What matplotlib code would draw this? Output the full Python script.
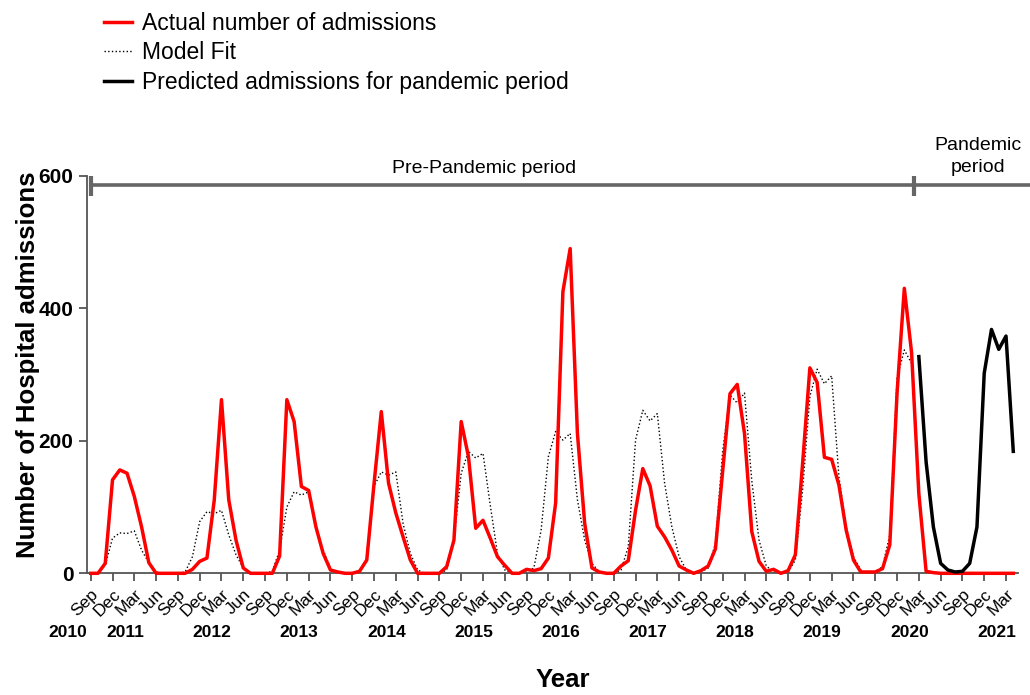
### Import libraries
import numpy as np
import matplotlib.pyplot as plt
import matplotlib.transforms as mtransforms

plt.rcParams['font.family'] = ['Liberation Sans', 'DejaVu Sans']


### Data: monthly hospital admissions, Sep 2010 - Apr 2021
actual = [0, 0, 15, 141, 156, 151, 116, 70, 16, 0, 0, 0,          # Sep10 - Aug11
          0, 0, 6, 18, 23, 110, 262, 111, 50, 8, 0, 0,            # Sep11 - Aug12
          0, 0, 26, 262, 229, 131, 125, 70, 30, 5, 2, 0,          # Sep12 - Aug13
          0, 3, 20, 135, 244, 136, 91, 55, 20, 0, 0, 0,           # Sep13 - Aug14
          0, 10, 50, 229, 176, 68, 80, 53, 25, 12, 0, 0,          # Sep14 - Aug15
          6, 4, 7, 23, 106, 425, 490, 211, 75, 8, 2, 0,           # Sep15 - Aug16
          0, 11, 19, 95, 158, 132, 71, 55, 35, 11, 5, 0,          # Sep16 - Aug17
          4, 11, 37, 155, 271, 285, 211, 63, 18, 3, 6, 0,         # Sep17 - Aug18
          4, 28, 166, 310, 288, 175, 172, 133, 65, 20, 2, 2,      # Sep18 - Aug19
          2, 7, 43, 272, 430, 333, 120, 3, 1, 0, 0, 0,            # Sep19 - Aug20
          0, 0, 0, 0, 0, 0, 0, 0]                                 # Sep20 - Apr21

model_fit = [0, 0, 12, 53, 61, 60, 64, 35, 16, 2, 0, 0,
             0, 2, 25, 78, 93, 90, 95, 58, 28, 8, 0, 0,
             0, 3, 35, 100, 123, 118, 123, 73, 35, 8, 0, 0,
             0, 4, 22, 131, 153, 148, 153, 75, 30, 5, 0, 0,
             0, 5, 50, 151, 184, 174, 181, 103, 29, 5, 0, 0,
             2, 8, 65, 176, 214, 201, 211, 111, 50, 15, 2, 0,
             0, 5, 40, 201, 246, 230, 241, 136, 70, 25, 5, 0,
             2, 8, 45, 185, 269, 257, 272, 140, 50, 11, 2, 0,
             2, 20, 126, 267, 308, 286, 298, 145, 70, 25, 5, 0,
             2, 10, 58, 295, 337, 317]                             # ends Feb20

# predicted admissions for pandemic period, Mar 2020 - Apr 2021
predicted = [327, 168, 70, 15, 5, 2, 3, 15, 70, 302, 368, 338, 358, 184]

tick_months = ['Sep', 'Dec', 'Mar', 'Jun']
years = ['2010', '2011', '2012', '2013', '2014', '2015', '2016',
         '2017', '2018', '2019', '2020', '2021']

months = np.arange(len(actual))
pred_months = months[-len(predicted):]


### Plot
fig = plt.figure(figsize=(10.3, 6.95), dpi=100)
ax = fig.add_axes([0.0842, 0.1751, 0.9038, 0.5721])

ax.plot(months[:len(model_fit)], model_fit, color='black', ls=':', lw=1.0,
        label='Model Fit', zorder=2)
ax.plot(months, actual, color='#ff0000', lw=2.5, label='Actual number of admissions',
        zorder=3, clip_on=False)
ax.plot(pred_months, predicted, color='black', lw=2.5,
        label='Predicted admissions for pandemic period', zorder=3, clip_on=False)

ax.set_xlim(-0.55, 127.6)
ax.set_ylim(0, 600)

# axes styling
for side in ['top', 'right']:
    ax.spines[side].set_visible(False)
for side in ['left', 'bottom']:
    ax.spines[side].set_color('#555555')
    ax.spines[side].set_linewidth(1.3)
ax.tick_params(axis='both', direction='out', length=6, width=1.3, color='#555555')

ax.set_yticks([0, 200, 400, 600])
ax.set_yticklabels(['0', '200', '400', '600'], fontsize=15, fontweight='bold')

xt = np.arange(0, len(actual), 3)
ax.set_xticks(xt)
ax.set_xticklabels([tick_months[i % 4] for i in range(len(xt))], fontsize=12.5,
                   rotation=45, ha='right', rotation_mode='anchor')

# year labels under month labels
trans = mtransforms.blended_transform_factory(ax.transData, ax.transAxes)
year_pos = [-3.1] + [4.7 + 12 * k for k in range(len(years) - 1)]
for xp, yr in zip(year_pos, years):
    ax.text(xp, -0.15, yr, transform=trans, ha='center', va='center',
            fontsize=12.5, fontweight='bold')

# period bar
bar_col = '#666666'
ax.plot([0, 129.3], [586, 586], color=bar_col, lw=2.6, clip_on=False, zorder=1)
ax.plot([0, 0], [570, 599], color=bar_col, lw=3, clip_on=False, solid_capstyle='butt')
ax.plot([113.3, 113.3], [570, 599], color=bar_col, lw=3, clip_on=False, solid_capstyle='butt')
ax.text(54.1, 604.7, 'Pre-Pandemic period', ha='center', va='baseline', fontsize=14)
ax.text(122.2, 639, 'Pandemic', ha='center', va='baseline', fontsize=14)
ax.text(122.2, 606, 'period', ha='center', va='baseline', fontsize=14)

# axis titles
fig.text(28 / 1030, 0.475, 'Number of Hospital admissions', rotation=90,
         ha='center', va='center', fontsize=18.5, fontweight='bold')
fig.text(563 / 1030, 0.012, 'Year', ha='center', va='baseline',
         fontsize=18.5, fontweight='bold')

# legend
h, l = ax.get_legend_handles_labels()
order = [1, 0, 2]
fig.legend([h[i] for i in order], [l[i] for i in order], loc='upper left',
           bbox_to_anchor=(104 / 1030, 0.983), frameon=False, fontsize=16.5,
           handlelength=1.2, handletextpad=0.45, labelspacing=0.29,
           borderpad=0, borderaxespad=0)

fig.savefig('out.png', dpi=100)
